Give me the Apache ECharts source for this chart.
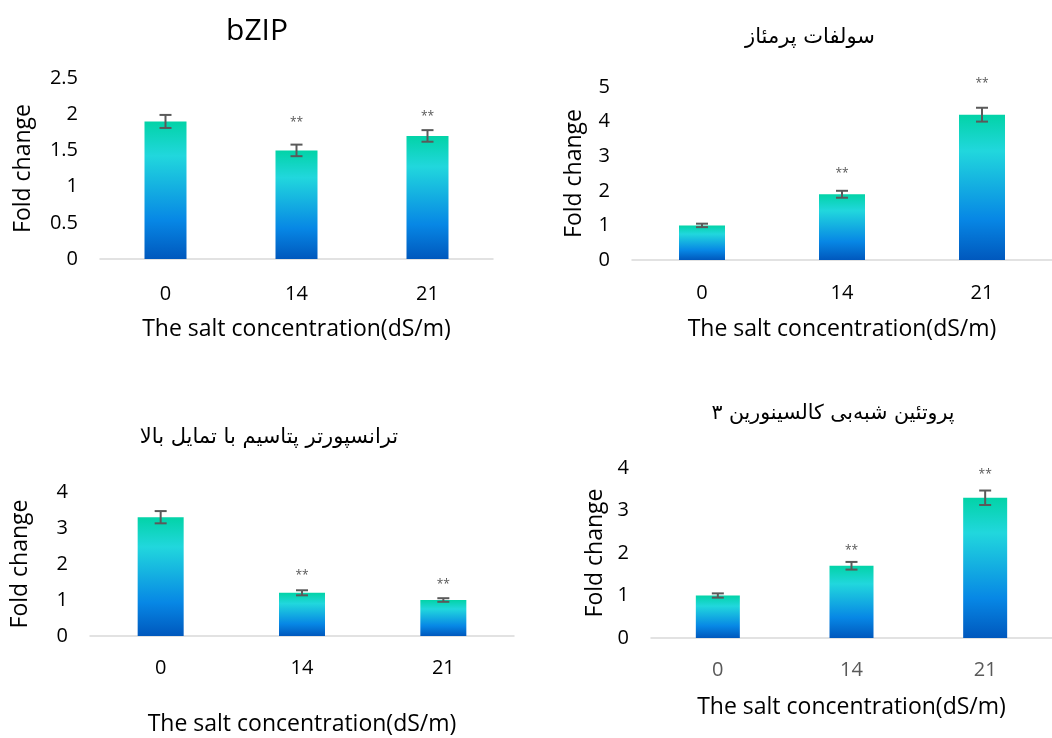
<!DOCTYPE html>
<html><head><meta charset="utf-8">
<script src="https://cdn.jsdelivr.net/npm/echarts@6/dist/echarts.min.js"></script>
<style>html,body{margin:0;padding:0;background:#fff}#c{width:1052px;height:738px}</style>
</head><body><div id="c"></div>
<script>
const categories = ['0', '14', '21'];
const titles = ['bZIP', 'سولفات پرمئاز', 'ترانسپورتر پتاسیم با تمایل بالا', 'پروتئین شبه‌بی کالسینورین ۳'];
// values
const bzipValues = [1.9, 1.5, 1.7];
const bzipErrors = [0.09, 0.08, 0.08];
const bzipStars = [null, 1.89, 1.97];
const sulfValues = [1.0, 1.9, 4.2];
const sulfErrors = [0.05, 0.1, 0.2];
const sulfStars = [null, 2.49, 5.09];
const kValues = [3.3, 1.2, 1.0];
const kErrors = [0.17, 0.07, 0.05];
const kStars = [null, 1.67, 1.44];
const calValues = [1.0, 1.7, 3.3];
const calErrors = [0.05, 0.09, 0.17];
const calStars = [null, 2.05, 3.84];
const yMax = [2.5, 5, 4, 4];
const yInterval = [0.5, 1, 1, 1];

const panels = [
  {v: bzipValues, e: bzipErrors, s: bzipStars},
  {v: sulfValues, e: sulfErrors, s: sulfStars},
  {v: kValues, e: kErrors, s: kStars},
  {v: calValues, e: calErrors, s: calStars}
];
const grids = [
  {left: 100, top: 78, width: 393, height: 181},
  {left: 632, top: 87, width: 431, height: 173},
  {left: 90, top: 492, width: 424, height: 144},
  {left: 651, top: 468, width: 413, height: 170}
];
const barWidths = [42, 46, 46, 44];
const xNameGaps = [59, 58, 77, 58];
const yNameGaps = [65, 46, 58, 44];
const xLabelMargins = [25, 23, 22, 22];
const xLabelColors = ['#000', '#000', '#000', '#595959'];
const titlePos = [[252, 11], [805, 22], [264, 422], [828, 398]];
const titleSizes = [30, 21, 21, 20.5];
const latin = '"Open Sans", "DejaVu Sans", sans-serif';
const persian = '"DejaVu Sans", sans-serif';

const grad = {
  type: 'linear', x: 0, y: 0, x2: 0, y2: 1,
  colorStops: [
    {offset: 0, color: '#02D3A7'},
    {offset: 0.25, color: '#21D7DD'},
    {offset: 0.72, color: '#0787E5'},
    {offset: 1, color: '#0058BD'}
  ]
};

function errItem(params, api) {
  const x = api.value(0), y = api.value(1), e = api.value(2);
  const t = api.coord([x, y + e]);
  const b = api.coord([x, y - e]);
  const h = 6;
  const st = {stroke: '#5a5a5a', lineWidth: 2};
  return {type: 'group', children: [
    {type: 'line', shape: {x1: t[0], y1: t[1], x2: b[0], y2: b[1]}, style: st},
    {type: 'line', shape: {x1: t[0] - h, y1: t[1], x2: t[0] + h, y2: t[1]}, style: st},
    {type: 'line', shape: {x1: b[0] - h, y1: b[1], x2: b[0] + h, y2: b[1]}, style: st}
  ]};
}

const option = {
  backgroundColor: '#fff',
  animation: false,
  title: titles.map((t, i) => ({
    text: t, left: titlePos[i][0], top: titlePos[i][1], textAlign: 'center',
    textStyle: {fontFamily: i === 0 ? latin : persian, fontSize: titleSizes[i],
      fontWeight: 'normal', color: '#000'}
  })),
  grid: grids,
  xAxis: grids.map((g, i) => ({
    type: 'category', gridIndex: i, data: categories,
    axisLine: {lineStyle: {color: '#d9d9d9', width: 1.5}},
    axisTick: {show: false},
    axisLabel: {fontFamily: latin, fontSize: 20, color: xLabelColors[i], margin: xLabelMargins[i]},
    name: 'The salt concentration(dS/m)', nameLocation: 'middle', nameGap: xNameGaps[i],
    nameTextStyle: {fontFamily: latin, fontSize: 23, color: '#000'}
  })),
  yAxis: grids.map((g, i) => ({
    type: 'value', gridIndex: i, min: 0, max: yMax[i], interval: yInterval[i],
    splitLine: {show: false}, axisLine: {show: false}, axisTick: {show: false},
    axisLabel: {fontFamily: latin, fontSize: 20, color: '#000', margin: 22},
    name: 'Fold change', nameLocation: 'middle', nameGap: yNameGaps[i],
    nameTextStyle: {fontFamily: latin, fontSize: 23, color: '#000'}
  })),
  series: []
};

panels.forEach((p, i) => {
  option.series.push({
    type: 'bar', xAxisIndex: i, yAxisIndex: i, data: p.v, barWidth: barWidths[i],
    itemStyle: {color: grad}
  });
  option.series.push({
    type: 'custom', xAxisIndex: i, yAxisIndex: i, renderItem: errItem,
    data: p.v.map((v, k) => [k, v, p.e[k]]), z: 5
  });
  option.series.push({
    type: 'scatter', xAxisIndex: i, yAxisIndex: i, symbolSize: 0, clip: false,
    data: p.s.map((v, k) => v == null ? null : [k, v]).filter(d => d),
    label: {show: true, position: 'inside', formatter: '**', fontSize: 12, color: '#2a2a2a', fontFamily: latin}
  });
});

echarts.init(document.getElementById('c')).setOption(option);
</script>
</body></html>
